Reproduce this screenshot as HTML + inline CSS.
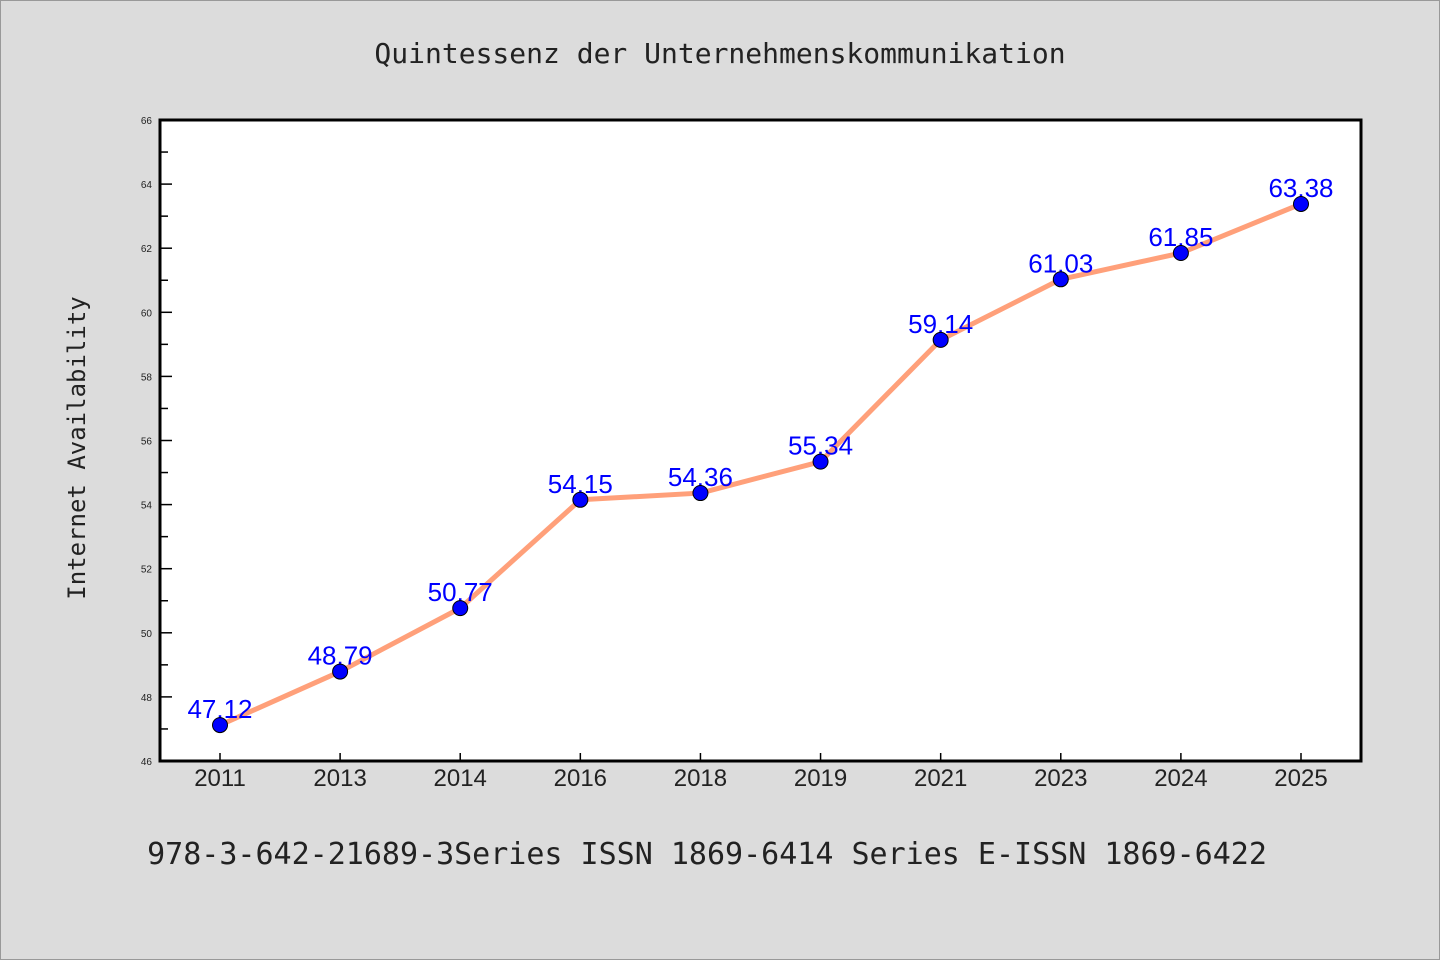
<!DOCTYPE html>
<html><head><meta charset="utf-8"><style>
body{margin:0;background:#dcdcdc;}
svg{display:block;font-family:"Liberation Sans","DejaVu Sans",sans-serif;}
.mono{font-family:"DejaVu Sans Mono","Liberation Mono",monospace;}
</style></head><body>
<svg id="chart" width="1440" height="960">
<rect x="0.5" y="0.5" width="1439" height="959" fill="#dcdcdc" stroke="#999"/>
<text class="mono" x="720" y="63" font-size="28" text-anchor="middle" fill="#222">Quintessenz der Unternehmenskommunikation</text>
<rect x="160" y="120" width="1201" height="641" fill="#fff"/>
<g id="ticks"></g>
<g id="series"></g>
<rect x="160" y="120" width="1201" height="641" fill="none" stroke="#000" stroke-width="3"/>
<text class="mono" transform="translate(85,448) rotate(-90)" font-size="24" text-anchor="middle" fill="#222">Internet Availability</text>
<text class="mono" x="707" y="864" font-size="30" text-anchor="middle" fill="#222">978-3-642-21689-3Series ISSN 1869-6414 Series E-ISSN 1869-6422</text>
</svg>
<script>
const categories=["2011","2013","2014","2016","2018","2019","2021","2023","2024","2025"];
const values=[47.12,48.79,50.77,54.15,54.36,55.34,59.14,61.03,61.85,63.38];
const yTicks=[46,48,50,52,54,56,58,60,62,64,66];
const NS="http://www.w3.org/2000/svg";
const L=160,R=1361,T=120,B=761,ymin=46,ymax=66;
const x=i=>L+60+i*(R-L-120)/(categories.length-1);
const y=v=>B-(v-ymin)/(ymax-ymin)*(B-T);
function mk(tag,attrs,parent){const e=document.createElementNS(NS,tag);for(const k in attrs)e.setAttribute(k,attrs[k]);parent.appendChild(e);return e;}
const tg=document.getElementById('ticks'),sg=document.getElementById('series');
yTicks.forEach((t,i)=>{
  const tk=mk('line',{x1:L,x2:L+12,y1:y(t),y2:y(t),stroke:'#000','stroke-width':1.5},tg);
  
  
  const lb=mk('text',{x:L-8,y:y(t)+4,'font-size':10,'text-anchor':'end',fill:'#222'},tg);
  lb.textContent=t;
  
  
  if(i<yTicks.length-1){
    const m=mk('line',{x1:L,x2:L+8,y1:y(t+1),y2:y(t+1),stroke:'#000','stroke-width':1.5},tg);
    
    
  }
});
categories.forEach((c,i)=>{
  const tk=mk('line',{x1:x(i),x2:x(i),y1:B,y2:B-8,stroke:'#000','stroke-width':1.5},tg);
  
  
  const lb=mk('text',{x:x(i),y:B+25,'font-size':24,'text-anchor':'middle',fill:'#222'},tg);
  lb.textContent=c;
  
  
});
const pl=mk('polyline',{points:values.map((v,i)=>x(i)+','+y(v)).join(' '),fill:'none',stroke:'#ffa07a','stroke-width':5,'stroke-linejoin':'round'},sg);


values.forEach((v,i)=>{
  const lb=mk('text',{x:x(i),y:y(v)-7,'font-size':26,'text-anchor':'middle',fill:'#0000ff'},sg);
  lb.textContent=v.toFixed(2);
  
  
});
values.forEach((v,i)=>{
  const p=mk('circle',{cx:x(i),cy:y(v),r:7.5,fill:'#0000ff',stroke:'#000','stroke-width':1},sg);
  
  
});
</script>
</body></html>
